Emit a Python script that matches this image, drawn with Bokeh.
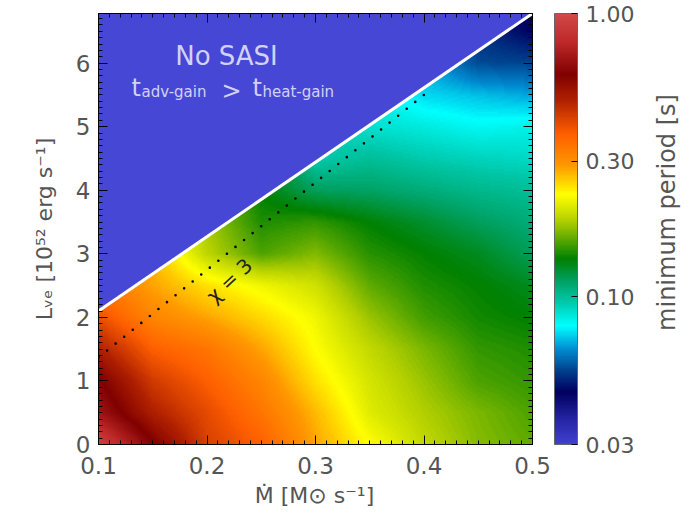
import numpy as np
from bokeh.plotting import figure
from bokeh.models import (LogColorMapper, ColorBar, FixedTicker, PrintfTickFormatter,
                          LinearAxis, SingleIntervalTicker, Label, Range1d)
from bokeh.embed import file_html
from bokeh.resources import INLINE

# ---------------- data ----------------
mdot = [0.10, 0.15, 0.20, 0.25, 0.30, 0.35, 0.40, 0.45, 0.50]      # Msun/s
lum = [0.0, 0.5, 1.0, 1.5, 2.0, 2.5, 3.0, 3.5, 4.0, 4.5, 5.0, 5.5, 6.0, 6.5, 7.0]  # 1e52 erg/s

# minimum period [s], one list per luminosity row (columns follow mdot)
period_L00 = [0.95, 0.62, 0.43, 0.375, 0.283, 0.229, 0.193, 0.171, 0.160]
period_L05 = [0.70, 0.50, 0.41, 0.340, 0.270, 0.210, 0.185, 0.168, 0.155]
period_L10 = [0.62, 0.44, 0.375, 0.315, 0.245, 0.203, 0.177, 0.155, 0.148]
period_L15 = [0.50, 0.375, 0.34, 0.283, 0.229, 0.193, 0.168, 0.148, 0.143]
period_L20 = [0.40, 0.315, 0.283, 0.250, 0.220, 0.177, 0.152, 0.140, 0.135]
period_L25 = [0.34, 0.283, 0.245, 0.220, 0.200, 0.160, 0.143, 0.136, 0.128]
period_L30 = [0.34, 0.27, 0.19, 0.155, 0.170, 0.145, 0.136, 0.128, 0.115]
period_L35 = [0.34, 0.27, 0.18, 0.143, 0.148, 0.135, 0.125, 0.115, 0.108]
period_L40 = [0.34, 0.27, 0.18, 0.135, 0.115, 0.113, 0.108, 0.103, 0.100]
period_L45 = [0.34, 0.27, 0.18, 0.135, 0.095, 0.100, 0.095, 0.092, 0.090]
period_L50 = [0.34, 0.27, 0.18, 0.135, 0.095, 0.088, 0.085, 0.081, 0.083]
period_L55 = [0.34, 0.27, 0.18, 0.135, 0.095, 0.085, 0.074, 0.071, 0.068]
period_L60 = [0.34, 0.27, 0.18, 0.135, 0.095, 0.085, 0.068, 0.056, 0.055]
period_L65 = [0.34, 0.27, 0.18, 0.135, 0.095, 0.085, 0.068, 0.052, 0.046]
period_L70 = [0.34, 0.27, 0.18, 0.135, 0.095, 0.085, 0.068, 0.052, 0.044]

# SASI boundary (t_adv-gain = t_heat-gain) and chi = 3 line
boundary_mdot = [0.10, 0.50]
boundary_lum = [2.10, 6.78]
chi3_mdot = [0.10, 0.40]
chi3_lum = [1.37, 5.50]

x_lo, x_hi = 0.1, 0.5
y_lo, y_hi = 0.0, 6.78
cbar_ticks = [0.03, 0.10, 0.30, 1.00]
cbar_low, cbar_high = 0.03, 1.00

# ---------------- colour map (IDL-like) ----------------
anchors = [
    (0.000, 64, 64, 208), (0.050, 40, 40, 170), (0.120, 0, 0, 96),
    (0.170, 0, 64, 140), (0.220, 0, 140, 210), (0.275, 0, 255, 255),
    (0.330, 0, 200, 170), (0.380, 0, 160, 96), (0.430, 0, 128, 0),
    (0.520, 180, 208, 0), (0.580, 255, 255, 0), (0.650, 255, 150, 0),
    (0.720, 255, 96, 0), (0.800, 176, 32, 0), (0.860, 128, 0, 0),
    (0.935, 190, 40, 40), (1.000, 210, 72, 72)]
at = np.array([a[0] for a in anchors])
palette = []
for t in np.linspace(0, 1, 256):
    r = np.interp(t, at, [a[1] for a in anchors])
    g = np.interp(t, at, [a[2] for a in anchors])
    b = np.interp(t, at, [a[3] for a in anchors])
    palette.append("#%02x%02x%02x" % (int(round(r)), int(round(g)), int(round(b))))

mapper = LogColorMapper(palette=palette, low=cbar_low, high=cbar_high)

rows = [period_L00, period_L05, period_L10, period_L15, period_L20, period_L25,
        period_L30, period_L35, period_L40, period_L45, period_L50, period_L55,
        period_L60, period_L65, period_L70]
logp = np.log10(np.array(rows, dtype=float))

# smooth (bilinear) shading of the grid at screen resolution, like the original raster
nx, ny = 217, 216
xs = x_lo + (np.arange(nx) + 0.5) * (x_hi - x_lo) / nx
ys = y_lo + (np.arange(ny) + 0.5) * (y_hi - y_lo) / ny
tmp = np.array([np.interp(xs, mdot, row) for row in logp])
fine = np.array([np.interp(ys, lum, tmp[:, j]) for j in range(nx)]).T
shade = 10.0 ** fine

FONT = "DejaVu Sans"
GREY = "#555555"

# frame: left 98, right 532, top 13, bottom 444 in a 682 x 509 canvas
p = figure(width=682, height=509, x_range=Range1d(x_lo, x_hi), y_range=Range1d(y_lo, y_hi),
           output_backend="svg", toolbar_location=None,
           min_border_left=98, min_border_right=150, min_border_top=13, min_border_bottom=65)
p.grid.visible = False
p.outline_line_color = "black"
p.background_fill_color = "white"

p.image(image=[shade], x=x_lo, y=y_lo, dw=x_hi - x_lo, dh=y_hi - y_lo, color_mapper=mapper)

# No-SASI region
p.patch([boundary_mdot[0], boundary_mdot[1], boundary_mdot[1], boundary_mdot[0]],
        [boundary_lum[0], boundary_lum[1], y_hi + 0.2, y_hi + 0.2],
        fill_color="#4747d5", line_color=None)
p.line(boundary_mdot, boundary_lum, line_color="white", line_width=3)
p.line(chi3_mdot, chi3_lum, line_color="black", line_width=2.6,
       line_dash="0 11", line_cap="round")

# axes
def style_axis(ax, interval, labels=True):
    ax.ticker = SingleIntervalTicker(interval=interval, num_minor_ticks=10)
    ax.major_tick_in = 9
    ax.major_tick_out = 0
    ax.minor_tick_in = 4
    ax.minor_tick_out = 0
    ax.axis_line_color = "black"
    ax.major_tick_line_color = "black"
    ax.minor_tick_line_color = "black"
    if labels:
        ax.major_label_text_font = FONT
        ax.major_label_text_font_size = "23px"
        ax.major_label_text_color = GREY
        ax.axis_label_text_font = FONT
        ax.axis_label_text_font_style = "normal"
        ax.axis_label_text_color = GREY
    else:
        ax.major_label_text_font_size = "0px"
        ax.major_label_text_color = None
        ax.major_label_standoff = 0

style_axis(p.xaxis[0], 0.1)
p.xaxis[0].major_label_standoff = 12

style_axis(p.yaxis[0], 1.0)
p.yaxis[0].major_label_standoff = 8
p.yaxis[0].axis_label = "Lᵥₑ [10⁵² erg s⁻¹]"
p.yaxis[0].axis_label_text_font_size = "22px"
p.yaxis[0].axis_label_standoff = 16

top_ax = LinearAxis()
style_axis(top_ax, 0.1, labels=False)
p.add_layout(top_ax, "above")
right_ax = LinearAxis()
style_axis(right_ax, 1.0, labels=False)
p.add_layout(right_ax, "right")

cbar = ColorBar(color_mapper=mapper, ticker=FixedTicker(ticks=cbar_ticks),
                formatter=PrintfTickFormatter(format="%.2f"),
                width=23, height=431, padding=0, margin=0, location=(22, 0),
                major_label_text_font=FONT, major_label_text_font_size="22px",
                major_label_text_color=GREY, label_standoff=8,
                major_tick_line_color="black", major_tick_in=6, major_tick_out=0,
                minor_tick_line_color=None, bar_line_color="#666666",
                border_line_color=None, background_fill_color=None)
p.add_layout(cbar, "right")

# colour-bar title, in its own side panel right of the colour bar
cb_title = Label(x=29, y=232, x_units="screen", y_units="screen",
                 text="minimum period [s]", text_font=FONT, text_font_size="24px",
                 text_color=GREY, angle=np.pi / 2, text_align="center",
                 text_baseline="alphabetic")
p.add_layout(cb_title, "right")

# x-axis title, in its own side panel below the axis
x_title = Label(x=216, y=6, x_units="screen", y_units="screen",
                text="Ṁ [M⊙ s⁻¹]", text_font=FONT, text_font_size="22px",
                text_color=GREY, text_align="center", text_baseline="alphabetic")
p.add_layout(x_title, "below")

# text labels inside the frame (page coordinates converted to frame screen coordinates)
FL, FB = 98, 444
def lab(text, px, py, size, color=GREY, angle=0.0, align="left", baseline="alphabetic"):
    p.add_layout(Label(x=px - FL, y=FB - py, x_units="screen", y_units="screen",
                       text=text, text_font=FONT, text_font_size=f"{size}px",
                       text_color=color, angle=angle, text_align=align,
                       text_baseline=baseline))

LAV = "#d2d2f5"
lab("No SASI", 226, 55, 26, LAV, align="center")
lab("t", 131, 87, 24, LAV)
lab("adv-gain", 141, 91, 15, LAV)
lab(">", 221, 90, 24, LAV)
lab("t", 252, 87, 24, LAV)
lab("heat-gain", 262, 91, 15, LAV)

lab("χ = 3", 229, 280, 20, "#222222", angle=np.radians(43), align="center", baseline="middle")

open("out.html", "w").write(file_html(p, INLINE))
